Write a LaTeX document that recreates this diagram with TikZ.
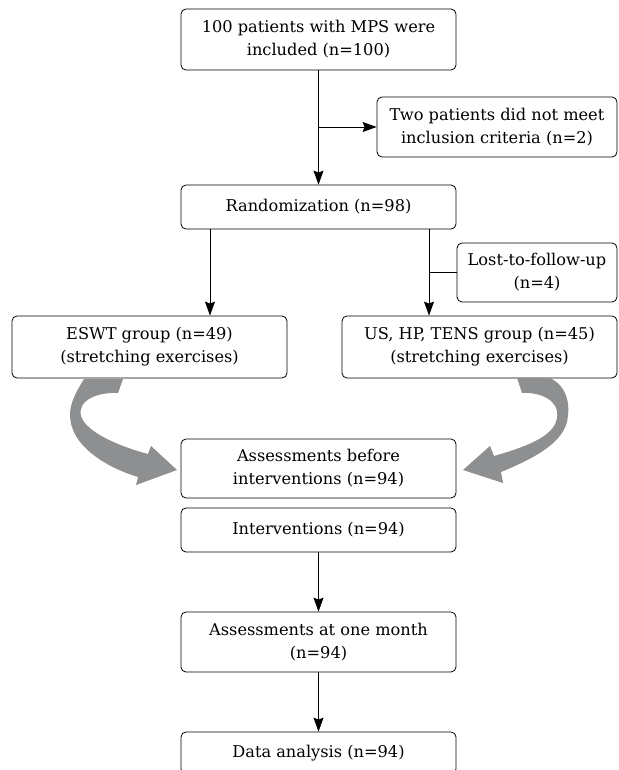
\documentclass[tikz,border=0pt]{standalone}
\usepackage{fontspec}
\setmainfont{DejaVu Serif}
\usetikzlibrary{arrows.meta}
\definecolor{arrgray}{HTML}{8E8F91}
\tikzset{
  box/.style={draw=black, line width=0.8pt, rounded corners=5pt, fill=white,
    align=center, inner sep=2pt, font=\fontsize{16.2}{23}\selectfont},
  arr/.style={line width=0.8pt, -{Stealth[length=14pt,width=10pt,inset=2pt]}},
  ln/.style={line width=0.8pt},
}
\begin{document}
\begin{tikzpicture}[x=1pt,y=-1pt]
\clip (0,0) rectangle (618,770);
\fill[white] (0,0) rectangle (618,770);

\node[box, minimum width=275pt, minimum height=61pt] (b1) at (318.5,39.5) {100 patients with MPS were\\included (n=100)};
\node[box, minimum width=240pt, minimum height=60pt] (b2) at (497,127) {Two patients did not meet\\inclusion criteria (n=2)};
\node[box, minimum width=275pt, minimum height=44pt] (rand) at (318.5,207) {Randomization (n=98)};
\node[box, minimum width=160pt, minimum height=59pt] (lost) at (537,272.5) {Lost-to-follow-up\\(n=4)};
\node[box, minimum width=275pt, minimum height=62pt] (eswt) at (149.5,347) {ESWT group (n=49)\\(stretching exercises)};
\node[box, minimum width=275pt, minimum height=62pt] (us) at (479.5,347) {US, HP, TENS group (n=45)\\(stretching exercises)};
\node[box, minimum width=275pt, minimum height=59pt] (ab) at (318.5,468.5) {Assessments before\\interventions (n=94)};
\node[box, minimum width=275pt, minimum height=44pt] (int) at (318.5,530) {Interventions (n=94)};
\node[box, minimum width=275pt, minimum height=60pt] (am) at (318.5,642) {Assessments at one month\\(n=94)};
\node[box, minimum width=275pt, minimum height=42pt] (da) at (318.5,753) {Data analysis (n=94)};

\coordinate (lx) at (210,0);
\coordinate (rx) at (429,0);

\draw[arr] (b1.south) -- (rand.north);
\draw[arr] (b2.west -| b1.south) -- (b2.west);
\draw[arr] (rand.south -| lx) -- (eswt.north -| lx);
\draw[arr] (rand.south -| rx) -- (us.north -| rx);
\draw[ln] (lost.west) -- (lost.west -| rx);
\draw[arr] (int.south) -- (am.north);
\draw[arr] (am.south) -- (da.north);

% left curved arrow
\fill[arrgray] (84,379) .. controls (76,392) and (70,403) .. (70,415)
  .. controls (70,445) and (105,467) .. (138,477)
  -- (136,485) -- (177,470) -- (151,446) -- (148,454)
  .. controls (118,446) and (86,432) .. (81,416)
  .. controls (77,400) and (98,392) .. (118,393)
  -- (123,379) -- cycle;
% right curved arrow
\fill[arrgray] (517,378) -- (550,378)
  .. controls (566,386) and (571,402) .. (567,422)
  .. controls (561,445) and (530,460) .. (501,472)
  -- (503,483) -- (463,470) -- (490,446) -- (494,456)
  .. controls (525,447) and (554,437) .. (557,418)
  .. controls (560,400) and (540,392) .. (522,393)
  -- cycle;
\end{tikzpicture}
\end{document}
